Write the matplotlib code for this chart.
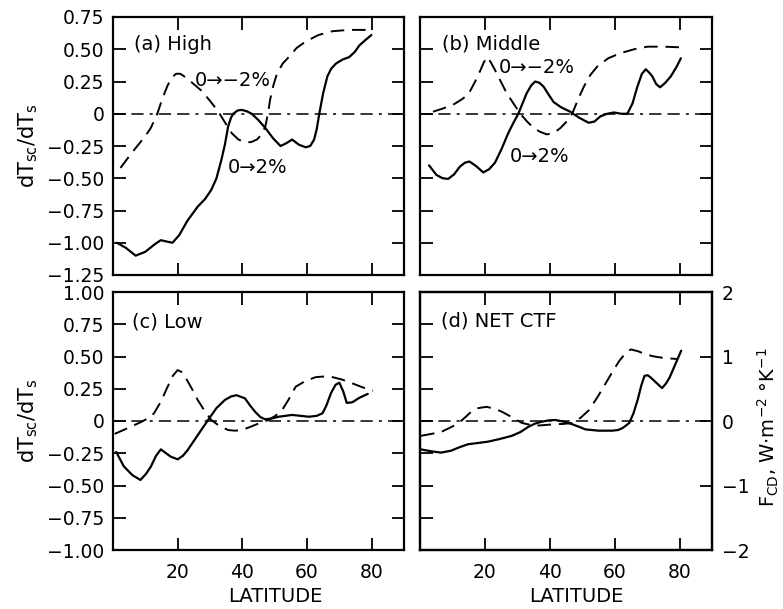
import matplotlib
matplotlib.use("Agg")
import matplotlib.pyplot as plt
import numpy as np

# (a) High clouds
latA_solid = [1.2, 4, 7, 10, 13, 14.8, 16.5, 18.4, 20.5, 23, 26.2, 28.5, 30.4, 32, 33.5, 34.6, 35.6, 36.5, 37.2,
              38.5, 39.8, 41.3, 42.9, 45, 47.1, 49.5, 51.8, 53.5, 55.4, 57.5, 59.6, 61, 62.2, 63, 63.8, 65,
              66.3, 67.5, 69, 71, 73.1, 74.8, 76.2, 78, 79.9]
valA_solid = [-1.0, -1.04, -1.10, -1.07, -1.01, -0.98, -0.99, -1.0, -0.94, -0.83, -0.72, -0.66, -0.59, -0.50,
              -0.36, -0.24, -0.10, -0.03, 0.0, 0.025, 0.03, 0.02, 0.0, -0.05, -0.11, -0.19, -0.25, -0.23,
              -0.20, -0.24, -0.26, -0.25, -0.20, -0.12, 0.0, 0.16, 0.29, 0.35, 0.39, 0.42, 0.44, 0.48, 0.53,
              0.57, 0.61]
latA_dash = [2.3, 5, 7.5, 9.8, 11.7, 13.7, 15.3, 16.9, 18.2, 19.5, 20.8, 22, 24.5, 27.3, 30, 32.5, 34.7, 36.7,
             38.8, 40.8, 42.7, 44.5, 46, 47.1, 47.9, 48.6, 49.6, 50.7, 52.5, 54.4, 56.8, 59.6, 63.5, 67.9,
             73, 79.9]
valA_dash = [-0.42, -0.33, -0.25, -0.18, -0.11, 0.0, 0.12, 0.22, 0.28, 0.31, 0.31, 0.29, 0.24, 0.18, 0.10,
             0.02, -0.07, -0.15, -0.20, -0.22, -0.22, -0.20, -0.16, -0.10, 0.0, 0.11, 0.22, 0.31, 0.39, 0.44,
             0.51, 0.56, 0.61, 0.64, 0.65, 0.65]

# (b) Middle clouds
latB_solid = [2.8, 4, 5.1, 7, 8.7, 10.5, 12.3, 13.8, 15.2, 16.4, 17.5, 19.5, 21.3, 23.1, 25.2, 27.2, 28.8,
              30.3, 31.6, 32.9, 34.3, 35.5, 36.8, 38.1, 39.6, 41.2, 43.5, 46.3, 49, 52, 53.8, 55.6, 57.7,
              59.8, 62, 63.9, 65.5, 67, 68.4, 69.6, 70.6, 71.6, 72.8, 74, 75.6, 77.3, 79, 80.4]
valB_solid = [-0.40, -0.44, -0.475, -0.50, -0.505, -0.47, -0.41, -0.38, -0.37, -0.39, -0.41, -0.455, -0.43,
              -0.38, -0.27, -0.15, -0.07, 0.0, 0.08, 0.16, 0.22, 0.25, 0.24, 0.21, 0.15, 0.09, 0.05, 0.016,
              -0.03, -0.07, -0.06, -0.02, 0.0, 0.01, 0.0, 0.0, 0.08, 0.21, 0.31, 0.345, 0.32, 0.29, 0.23,
              0.205, 0.24, 0.29, 0.36, 0.43]
latB_dash = [4, 7, 10.2, 12.8, 14.9, 16.8, 18.5, 19.7, 20.7, 21.8, 23.1, 24.9, 26.7, 28.8, 30.9, 33, 35, 37,
             39.1, 41.2, 43.3, 45.2, 46.9, 48.7, 50.5, 52.5, 54.6, 58, 61.8, 66, 70.1, 75, 80.4]
valB_dash = [0.016, 0.04, 0.07, 0.11, 0.15, 0.24, 0.33, 0.40, 0.44, 0.40, 0.34, 0.25, 0.16, 0.08, 0.0, -0.06,
             -0.11, -0.14, -0.16, -0.15, -0.11, -0.06, 0.0, 0.11, 0.21, 0.30, 0.365, 0.43, 0.47, 0.50, 0.52,
             0.52, 0.515]

# (c) Low clouds
latC_solid = [1, 3.3, 6, 8.5, 10.2, 11.7, 13.3, 14.8, 16.4, 17.9, 20, 21.6, 23.1, 26.2, 29.4, 32, 34.6, 36.5,
              38.2, 40.8, 42.4, 44, 45.6, 47.1, 49.2, 51.2, 55.4, 58, 60.6, 63, 64.8, 66, 67.4, 68.8, 70,
              71.2, 72.3, 74, 76.2, 78.8]
valC_solid = [-0.24, -0.35, -0.42, -0.457, -0.41, -0.354, -0.27, -0.22, -0.25, -0.277, -0.297, -0.27,
              -0.225, -0.11, 0.008, 0.10, 0.163, 0.19, 0.20, 0.176, 0.12, 0.07, 0.03, 0.013, 0.02, 0.033,
              0.047, 0.04, 0.033, 0.04, 0.06, 0.12, 0.215, 0.28, 0.297, 0.23, 0.14, 0.145, 0.18, 0.21]
latC_dash = [0.5, 4.4, 8.5, 10.8, 12.7, 14.8, 16.9, 18.5, 20, 21.2, 22.6, 24.4, 26.2, 28.3, 30.4, 33, 35.6, 37.7,
             39.8, 42, 44, 46, 48.1, 50.2, 52.3, 54.4, 56.5, 59.5, 62.7, 65.3, 67.9, 71, 74.2, 77.3, 80.4]
valC_dash = [-0.10, -0.057, -0.01, 0.02, 0.06, 0.15, 0.266, 0.35, 0.395, 0.38, 0.33, 0.25, 0.163, 0.08,
             0.008, -0.04, -0.07, -0.075, -0.07, -0.05, -0.03, -0.01, 0.008, 0.04, 0.085, 0.17, 0.266, 0.31,
             0.34, 0.345, 0.34, 0.32, 0.29, 0.26, 0.235]

# (d) Net cloud temperature feedback (right axis, W m-2 K-1)
latD_solid = [0.3, 3.5, 6.5, 9.6, 12, 14.8, 18, 21, 24.5, 28.3, 31, 33.4, 35.5, 37.6, 39.7, 41.7, 44.3, 46.9,
              49, 51, 55, 59.3, 61, 62.4, 63.5, 64.5, 65.8, 67.1, 68.2, 69.2, 70.2, 71.2, 72.9, 74.6, 75.8,
              76.9, 78.7, 80.5]
valD_solid = [-0.44, -0.47, -0.49, -0.46, -0.41, -0.36, -0.34, -0.32, -0.28, -0.23, -0.17, -0.09, -0.04,
              -0.01, 0.01, 0.016, -0.01, -0.05, -0.09, -0.13, -0.15, -0.15, -0.14, -0.11, -0.07, -0.03, 0.12,
              0.33, 0.55, 0.70, 0.71, 0.67, 0.59, 0.51, 0.58, 0.67, 0.88, 1.09]
latD_dash = [0.3, 3.5, 6.5, 9, 11.7, 14, 15.8, 18, 20.5, 23, 25.2, 28.3, 31.4, 34, 36.6, 39, 41.7, 44.3, 46.9,
             49.5, 52.1, 54.7, 57.3, 59.4, 61.4, 63.3, 65, 67.3, 69.7, 72.2, 74.8, 77, 79.5]
valD_dash = [-0.23, -0.20, -0.17, -0.11, -0.04, 0.06, 0.145, 0.20, 0.22, 0.19, 0.145, 0.06, -0.03, -0.06,
             -0.07, -0.06, -0.05, -0.045, -0.03, 0.05, 0.17, 0.37, 0.59, 0.77, 0.93, 1.05, 1.11, 1.08, 1.03,
             1.0, 0.98, 0.97, 0.96]

xticks = [20, 40, 60, 80]
ticks_top = [-1.25, -1.0, -0.75, -0.5, -0.25, 0, 0.25, 0.5, 0.75]
ticks_bot = [-1.0, -0.75, -0.5, -0.25, 0, 0.25, 0.5, 0.75, 1.0]
ticks_flux = [-2, -1, 0, 1, 2]


def fmt(v):
    if v == 0:
        return "0"
    return "{:.2f}".format(v).replace("-", "\u2212")


plt.rcParams['font.family'] = 'DejaVu Sans'
fig = plt.figure(figsize=(7.83, 6.09), dpi=100)
W, H = 783.0, 609.0


def make_ax(x0, y0, x1, y1):
    return fig.add_axes([x0 / W, 1 - y1 / H, (x1 - x0) / W, (y1 - y0) / H])


axA = make_ax(113, 17, 404, 275)
axB = make_ax(420, 17, 712, 275)
axC = make_ax(113, 292, 404, 550)
axD = make_ax(420, 292, 712, 550)

solid_kw = dict(color='black', lw=1.6, solid_capstyle='round')
dash_kw = dict(color='black', lw=1.4, linestyle=(0, (7, 4)))
zero_kw = dict(color='black', lw=1.1, linestyle=(0, (8, 4, 8, 4, 2, 4)))
TS = 13.5


def style(ax, yticks, ylim, labels=True, xlabels=False):
    ax.set_xlim(0, 90)
    ax.set_ylim(*ylim)
    ax.set_xticks(xticks)
    ax.set_yticks(yticks)
    ax.tick_params(direction='in', length=9, width=1.3, top=True, right=True,
                   labelsize=TS, pad=6)
    ax.tick_params(axis='x', pad=9)
    if labels:
        ax.set_yticklabels([fmt(v) for v in yticks])
    else:
        ax.set_yticklabels([])
    if not xlabels:
        ax.set_xticklabels([])
    for s in ax.spines.values():
        s.set_linewidth(1.6)
    ax.axhline(0, **zero_kw)


ylab = r'dT$_{\mathrm{sc}}$/dT$_{\mathrm{s}}$'

# (a)
style(axA, ticks_top, (-1.25, 0.75))
axA.plot(latA_solid, valA_solid, **solid_kw)
axA.plot(latA_dash, valA_dash, **dash_kw)
axA.text(6.5, 0.54, '(a) High', fontsize=14, va='center')
axA.text(25.3, 0.26, '0\u2192\u22122%', fontsize=14, va='center')
axA.text(35.6, -0.42, '0\u21922%', fontsize=14, va='center')
axA.set_ylabel(ylab, fontsize=15)
axA.yaxis.set_label_coords(-0.25, 0.5)

# (b)
style(axB, ticks_top, (-1.25, 0.75), labels=False)
axB.plot(latB_solid, valB_solid, **solid_kw)
axB.plot(latB_dash, valB_dash, **dash_kw)
axB.text(6.7, 0.54, '(b) Middle', fontsize=14, va='center')
axB.text(24.2, 0.355, '0\u2192\u22122%', fontsize=14, va='center')
axB.text(27.8, -0.335, '0\u21922%', fontsize=14, va='center')

# (c)
style(axC, ticks_bot, (-1.0, 1.0), xlabels=True)
axC.plot(latC_solid, valC_solid, **solid_kw)
axC.plot(latC_dash, valC_dash, **dash_kw)
axC.text(5.9, 0.767, '(c) Low', fontsize=14, va='center')
axC.set_ylabel(ylab, fontsize=15)
axC.yaxis.set_label_coords(-0.25, 0.5)
axC.set_xlabel('LATITUDE', fontsize=14)
axC.xaxis.set_label_coords(0.557, -0.145)

# (d) left ticks follow panel (c) scale, data on right axis
style(axD, ticks_bot, (-1.0, 1.0), labels=False, xlabels=True)
axD.tick_params(right=False)
axD.set_xlabel('LATITUDE', fontsize=14)
axD.xaxis.set_label_coords(0.536, -0.145)
axD2 = axD.twinx()
axD2.set_ylim(-2, 2)
axD2.set_yticks(ticks_flux)
axD2.set_yticklabels([str(v).replace("-", "\u2212") for v in ticks_flux])
axD2.tick_params(direction='in', length=9, width=1.3, labelsize=TS, pad=7)
for s in axD2.spines.values():
    s.set_linewidth(1.6)
axD2.plot(latD_solid, valD_solid, **solid_kw)
axD2.plot(latD_dash, valD_dash, **dash_kw)
axD2.text(6.4, 1.55, '(d) NET CTF', fontsize=14, va='center')
fig.text(768 / W, 1 - 427 / H, r'F$_{\mathrm{CD}}$, W$\cdot$m$^{-2}$ $\degree$K$^{-1}$',
         fontsize=14, rotation=90, ha='center', va='center')

fig.savefig('out.png', dpi=100)
